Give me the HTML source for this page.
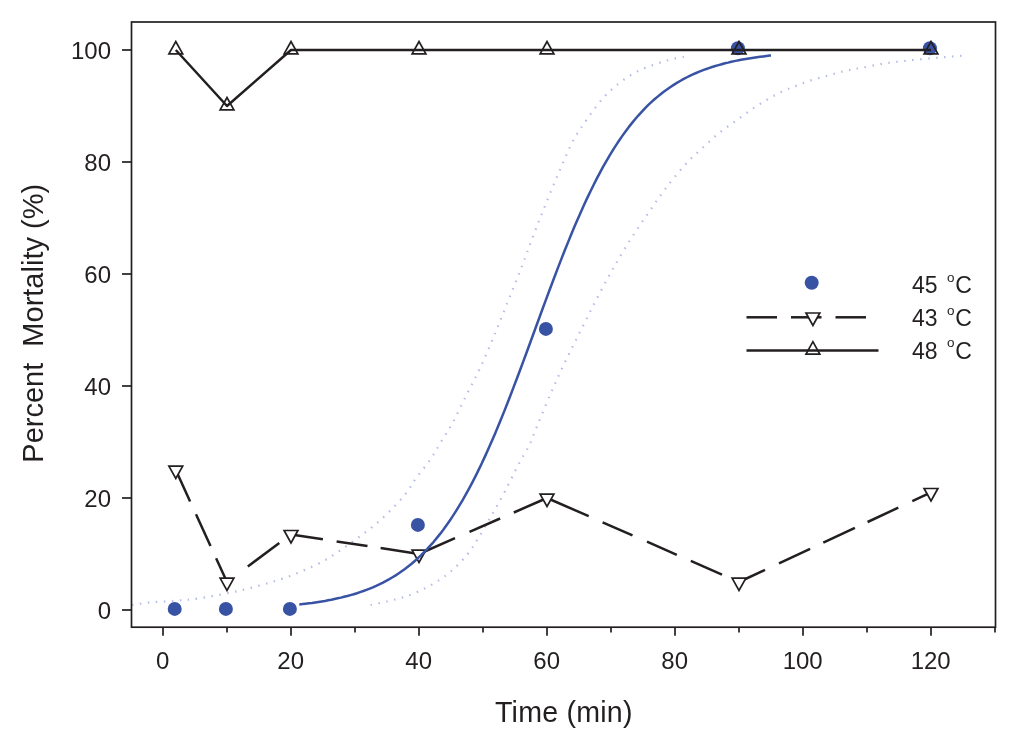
<!DOCTYPE html>
<html lang="en"><head><meta charset="utf-8"><title>Percent Mortality vs Time</title>
<style>html,body{margin:0;padding:0;background:#fff}svg{display:block}text{font-family:"Liberation Sans",Arial,Helvetica,sans-serif;fill:#231f20}</style></head><body>
<svg width="1024" height="744" viewBox="0 0 1024 744">
<rect width="1024" height="744" fill="#fff"/>
<path d="M132.0 605.0 C134.9 604.6 142.3 603.2 149.5 602.5 C156.7 601.8 166.8 601.5 175.0 600.8 C183.2 600.1 189.6 599.8 198.4 598.5 C207.2 597.2 219.6 594.8 227.7 593.2 C235.8 591.6 240.7 590.4 247.2 588.8 C253.7 587.2 260.2 585.4 266.7 583.5 C273.2 581.6 279.8 579.7 286.3 577.4 C292.8 575.1 299.3 572.4 305.8 569.5 C312.3 566.6 319.4 563.3 325.3 560.0 C331.2 556.7 335.7 553.4 341.0 549.8 C346.3 546.2 351.8 542.2 357.2 538.3 C362.6 534.4 367.9 530.7 373.3 526.2 C378.7 521.7 384.1 516.8 389.5 511.4 C394.9 506.0 401.1 499.5 405.6 493.9 C410.1 488.3 412.3 483.4 416.3 477.8 C420.3 472.2 425.8 466.1 429.8 460.3 C433.8 454.5 436.7 449.1 440.5 442.8 C444.3 436.5 448.4 430.5 452.6 422.7 C456.9 414.9 461.4 405.1 466.0 396.0 C470.6 386.9 475.3 378.3 480.0 368.3 C484.7 358.3 489.4 347.1 494.1 335.8 C498.8 324.5 503.5 312.4 508.2 300.6 C512.9 288.9 517.9 276.6 522.3 265.3 C526.6 254.0 530.2 243.7 534.3 233.0 C538.4 222.3 542.6 212.0 546.9 201.3 C551.2 190.6 555.8 179.3 560.3 169.0 C564.8 158.7 569.3 147.8 573.8 139.5 C578.3 131.2 582.3 126.0 587.2 119.0 C592.1 112.0 597.9 103.8 603.3 97.8 C608.7 91.8 614.1 87.2 619.5 83.0 C624.9 78.8 630.2 75.2 635.6 72.3 C641.0 69.4 646.3 67.5 651.7 65.5 C657.1 63.5 662.4 61.7 667.8 60.2 C673.2 58.7 681.3 57.3 684.0 56.7" fill="none" stroke="#b4bde4" stroke-width="2.2" stroke-dasharray="1.5 6.5"/>
<path d="M370.6 605.0 C373.3 604.4 381.4 602.8 386.8 601.5 C392.2 600.2 397.5 599.1 402.9 597.4 C408.3 595.7 413.6 593.7 419.0 591.2 C424.4 588.7 429.8 586.0 435.2 582.6 C440.6 579.2 445.9 575.7 451.3 571.0 C456.7 566.3 462.9 559.9 467.4 554.4 C471.9 548.9 474.2 544.8 478.2 538.3 C482.2 531.8 487.1 523.2 491.6 515.4 C496.1 507.5 500.5 499.7 505.0 491.2 C509.5 482.7 514.5 472.0 518.5 464.4 C522.5 456.8 526.7 450.5 529.2 445.5 C531.7 440.5 530.0 443.2 533.6 434.6 C537.2 426.0 545.4 405.7 550.6 393.7 C555.8 381.7 560.0 372.6 564.7 362.7 C569.4 352.8 574.1 343.8 578.8 334.4 C583.5 325.0 588.2 315.4 592.9 306.2 C597.6 297.0 602.8 287.2 607.0 279.4 C611.2 271.6 614.0 266.9 618.3 259.6 C622.6 252.3 627.8 243.6 632.9 235.7 C638.0 227.8 643.6 219.8 649.0 212.0 C654.4 204.2 659.2 196.9 665.2 189.0 C671.2 181.1 679.2 171.3 685.3 164.5 C691.4 157.7 696.5 153.5 702.0 148.4 C707.5 143.3 712.7 138.2 718.1 133.8 C723.5 129.4 728.8 125.9 734.2 122.0 C739.6 118.1 744.9 114.0 750.3 110.3 C755.7 106.6 761.0 103.2 766.4 100.0 C771.8 96.8 777.4 93.7 782.5 91.3 C787.6 88.9 792.1 87.4 797.2 85.4 C802.3 83.5 807.9 81.3 813.3 79.6 C818.7 77.9 824.0 76.7 829.4 75.2 C834.8 73.7 840.1 72.0 845.5 70.8 C850.9 69.6 855.1 69.0 861.7 67.8 C868.3 66.6 877.3 64.6 885.1 63.4 C892.9 62.2 900.7 61.4 908.5 60.5 C916.3 59.6 925.2 58.8 932.0 58.2 C938.8 57.6 944.0 57.2 949.5 56.7 C955.0 56.2 962.2 55.7 964.8 55.5" fill="none" stroke="#b4bde4" stroke-width="2.2" stroke-dasharray="1.5 6.5"/>
<g stroke="#231f20" stroke-width="2.5" fill="none">
<line x1="175.8" y1="470.0" x2="190.1" y2="501.4"/>
<line x1="196.0" y1="514.2" x2="210.5" y2="545.9"/>
<line x1="216.1" y1="558.2" x2="227.0" y2="582.0"/>
<line x1="247.8" y1="566.5" x2="279.3" y2="543.1"/>
<line x1="291.0" y1="534.4" x2="322.9" y2="539.3"/>
<line x1="336.6" y1="541.4" x2="367.5" y2="546.1"/>
<line x1="380.6" y1="548.1" x2="419.0" y2="554.0"/>
<line x1="419.0" y1="554.0" x2="455.0" y2="538.2"/>
<line x1="469.5" y1="531.9" x2="500.1" y2="518.5"/>
<line x1="513.8" y1="512.5" x2="547.0" y2="498.0"/>
<line x1="547.0" y1="498.0" x2="588.7" y2="516.2"/>
<line x1="602.6" y1="522.3" x2="632.5" y2="535.4"/>
<line x1="647.0" y1="541.7" x2="676.8" y2="554.8"/>
<line x1="690.8" y1="560.9" x2="722.0" y2="574.6"/>
<line x1="739.0" y1="582.0" x2="765.0" y2="569.9"/>
<line x1="779.0" y1="563.4" x2="810.1" y2="548.8"/>
<line x1="823.3" y1="542.7" x2="854.9" y2="527.9"/>
<line x1="867.6" y1="522.0" x2="898.3" y2="507.7"/>
<line x1="912.3" y1="501.1" x2="931.0" y2="492.4"/>
</g>
<g stroke="#231f20" stroke-width="1.7" fill="#fff">
<path d="M168.9 466.1 L182.7 466.1 L175.8 478.5 Z"/>
<path d="M220.1 578.1 L233.9 578.1 L227.0 590.5 Z"/>
<path d="M284.1 530.5 L297.9 530.5 L291.0 542.9 Z"/>
<path d="M412.1 550.1 L425.9 550.1 L419.0 562.5 Z"/>
<path d="M540.1 494.1 L553.9 494.1 L547.0 506.5 Z"/>
<path d="M732.1 578.1 L745.9 578.1 L739.0 590.5 Z"/>
<path d="M924.1 488.5 L937.9 488.5 L931.0 500.9 Z"/>
</g>
<g fill="#3953a4">
<circle cx="174.7" cy="608.9" r="7"/>
<circle cx="225.9" cy="608.9" r="7"/>
<circle cx="289.9" cy="608.9" r="7"/>
<circle cx="417.9" cy="524.9" r="7"/>
<circle cx="545.9" cy="328.9" r="7"/>
<circle cx="737.9" cy="48.3" r="7"/>
<circle cx="929.9" cy="48.3" r="7"/>
</g>
<g stroke="#231f20" stroke-width="1.7" fill="none">
<path d="M168.9 53.9 L182.7 53.9 L175.8 41.5 Z"/>
<path d="M220.1 109.9 L233.9 109.9 L227.0 97.5 Z"/>
<path d="M284.1 53.9 L297.9 53.9 L291.0 41.5 Z"/>
<path d="M412.1 53.9 L425.9 53.9 L419.0 41.5 Z"/>
<path d="M540.1 53.9 L553.9 53.9 L547.0 41.5 Z"/>
<path d="M732.1 53.9 L745.9 53.9 L739.0 41.5 Z"/>
<path d="M924.1 53.9 L937.9 53.9 L931.0 41.5 Z"/>
</g>
<polyline points="175.8,50.0 227.0,106.0 291.0,50.0 419.0,50.0 547.0,50.0 739.0,50.0 931.0,50.0" fill="none" stroke="#231f20" stroke-width="2.5" stroke-linejoin="round"/>
<polyline points="299.3,604.4 302.5,604.1 305.7,603.7 308.9,603.3 312.1,602.9 315.3,602.4 318.5,601.9 321.7,601.4 324.9,600.9 328.1,600.3 331.3,599.7 334.5,599.0 337.7,598.3 340.9,597.6 344.1,596.8 347.3,596.0 350.5,595.1 353.7,594.2 356.9,593.2 360.1,592.1 363.3,591.0 366.5,589.8 369.7,588.6 372.9,587.3 376.1,585.9 379.3,584.4 382.5,582.8 385.7,581.1 388.9,579.4 392.1,577.5 395.3,575.6 398.5,573.5 401.7,571.3 404.9,569.0 408.1,566.5 411.3,564.0 414.5,561.2 417.7,558.4 420.9,555.4 424.1,552.2 427.3,548.9 430.5,545.4 433.7,541.8 436.9,537.9 440.1,533.9 443.3,529.7 446.5,525.3 449.7,520.7 452.9,515.9 456.1,510.9 459.3,505.7 462.5,500.3 465.7,494.7 468.9,488.9 472.1,482.8 475.3,476.6 478.5,470.1 481.7,463.5 484.9,456.6 488.1,449.6 491.3,442.3 494.5,434.9 497.7,427.3 500.9,419.5 504.1,411.6 507.3,403.5 510.5,395.3 513.7,386.9 516.9,378.5 520.1,370.0 523.3,361.4 526.5,352.7 529.7,344.0 532.9,335.2 536.1,326.5 539.3,317.8 542.5,309.0 545.7,300.4 548.9,291.7 552.1,283.2 555.3,274.7 558.5,266.4 561.7,258.1 564.9,250.0 568.1,242.1 571.3,234.3 574.5,226.6 577.7,219.2 580.9,211.9 584.1,204.8 587.3,197.9 590.5,191.2 593.7,184.7 596.9,178.4 600.1,172.3 603.3,166.4 606.5,160.8 609.7,155.3 612.9,150.1 616.1,145.1 619.3,140.2 622.5,135.6 625.7,131.2 628.9,126.9 632.1,122.9 635.3,119.0 638.5,115.3 641.7,111.8 644.9,108.4 648.1,105.2 651.3,102.2 654.5,99.3 657.7,96.6 660.9,94.0 664.1,91.5 667.3,89.2 670.5,87.0 673.7,84.9 676.9,82.9 680.1,81.0 683.3,79.2 686.5,77.5 689.7,75.9 692.9,74.4 696.1,73.0 699.3,71.7 702.5,70.4 705.7,69.2 708.9,68.1 712.1,67.0 715.3,66.0 718.5,65.1 721.7,64.2 724.9,63.3 728.1,62.6 731.3,61.8 734.5,61.1 737.7,60.4 740.9,59.8 744.1,59.2 747.3,58.7 750.5,58.2 753.7,57.7 756.9,57.2 760.1,56.8 763.3,56.4 766.5,56.0 769.7,55.6 771.0,55.5" fill="none" stroke="#3953a4" stroke-width="2.5" stroke-linejoin="round"/>
<g stroke="#231f20" stroke-width="1.7" fill="none">
<rect x="131.5" y="22" width="864" height="605.2"/>
<line x1="122" y1="610.0" x2="131.5" y2="610.0"/>
<line x1="122" y1="498.0" x2="131.5" y2="498.0"/>
<line x1="122" y1="386.0" x2="131.5" y2="386.0"/>
<line x1="122" y1="274.0" x2="131.5" y2="274.0"/>
<line x1="122" y1="162.0" x2="131.5" y2="162.0"/>
<line x1="122" y1="50.0" x2="131.5" y2="50.0"/>
<line x1="163.0" y1="627.2" x2="163.0" y2="635.8"/>
<line x1="227.0" y1="627.2" x2="227.0" y2="632.6"/>
<line x1="291.0" y1="627.2" x2="291.0" y2="635.8"/>
<line x1="355.0" y1="627.2" x2="355.0" y2="632.6"/>
<line x1="419.0" y1="627.2" x2="419.0" y2="635.8"/>
<line x1="483.0" y1="627.2" x2="483.0" y2="632.6"/>
<line x1="547.0" y1="627.2" x2="547.0" y2="635.8"/>
<line x1="611.0" y1="627.2" x2="611.0" y2="632.6"/>
<line x1="675.0" y1="627.2" x2="675.0" y2="635.8"/>
<line x1="739.0" y1="627.2" x2="739.0" y2="632.6"/>
<line x1="803.0" y1="627.2" x2="803.0" y2="635.8"/>
<line x1="867.0" y1="627.2" x2="867.0" y2="632.6"/>
<line x1="931.0" y1="627.2" x2="931.0" y2="635.8"/>
<line x1="995.0" y1="627.2" x2="995.0" y2="632.6"/>
</g>
<g font-size="24">
<text x="111" y="618.5" text-anchor="end">0</text>
<text x="111" y="506.5" text-anchor="end">20</text>
<text x="111" y="394.5" text-anchor="end">40</text>
<text x="111" y="282.5" text-anchor="end">60</text>
<text x="111" y="170.5" text-anchor="end">80</text>
<text x="111" y="58.5" text-anchor="end">100</text>
<text x="162.7" y="669.3" text-anchor="middle">0</text>
<text x="290.7" y="669.3" text-anchor="middle">20</text>
<text x="418.7" y="669.3" text-anchor="middle">40</text>
<text x="546.7" y="669.3" text-anchor="middle">60</text>
<text x="674.7" y="669.3" text-anchor="middle">80</text>
<text x="802.7" y="669.3" text-anchor="middle">100</text>
<text x="930.7" y="669.3" text-anchor="middle">120</text>
</g>
<text x="495" y="721.8" font-size="28.6" textLength="137.5" lengthAdjust="spacing">Time (min)</text>
<text transform="translate(43.2 323.3) rotate(-90)" font-size="29" text-anchor="middle" xml:space="preserve">Percent  Mortality (%)</text>
<circle cx="811.7" cy="282.8" r="7" fill="#3953a4"/>
<g stroke="#231f20" stroke-width="2.5" fill="none">
<line x1="746.5" y1="317.3" x2="777.0" y2="317.3"/>
<line x1="791.0" y1="317.3" x2="821.5" y2="317.3"/>
<line x1="835.5" y1="317.3" x2="866.0" y2="317.3"/>
<line x1="746.5" y1="350.4" x2="878.5" y2="350.4"/>
</g>
<path d="M806.0 313.0 L819.8 313.0 L812.9 325.4 Z" stroke="#231f20" stroke-width="1.7" fill="#fff"/>
<path d="M806.0 354.1 L819.8 354.1 L812.9 341.7 Z" stroke="#231f20" stroke-width="1.7" fill="none"/>
<text x="912" y="293.0" font-size="23">45 <tspan font-size="13.5" dx="3" dy="-11.5">o</tspan><tspan dx="0.8" dy="11.5">C</tspan></text>
<text x="912" y="326.0" font-size="23">43 <tspan font-size="13.5" dx="3" dy="-11.5">o</tspan><tspan dx="0.8" dy="11.5">C</tspan></text>
<text x="912" y="358.7" font-size="23">48 <tspan font-size="13.5" dx="3" dy="-11.5">o</tspan><tspan dx="0.8" dy="11.5">C</tspan></text>
</svg></body></html>
